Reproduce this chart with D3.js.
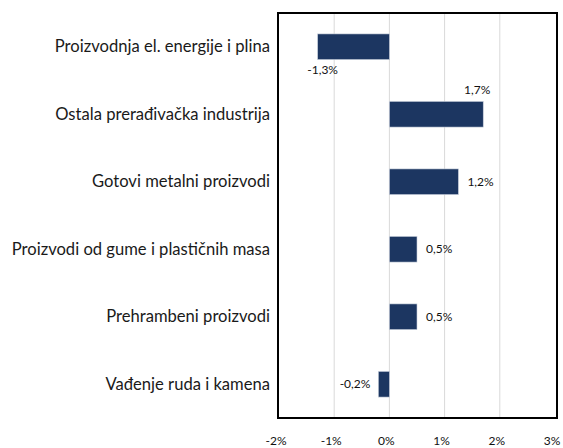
<!DOCTYPE html>
<html>
<head>
<meta charset="utf-8">
<script src="https://cdn.jsdelivr.net/npm/d3@7"></script>
<style>
  body { margin: 0; background: #fff; }
  svg text { font-family: "Lato", "Open Sans", sans-serif; }
</style>
</head>
<body>
<svg id="chart" width="563" height="448"></svg>
<script>
const categories = [
    "Proizvodnja el. energije i plina",
    "Ostala prerađivačka industrija",
    "Gotovi metalni proizvodi",
    "Proizvodi od gume i plastičnih masa",
    "Prehrambeni proizvodi",
    "Vađenje ruda i kamena"
];
const values = [-1.3, 1.7, 1.25, 0.5, 0.5, -0.2];
const value_labels = ["-1,3%", "1,7%", "1,2%", "0,5%", "0,5%", "-0,2%"];
const x_ticks = [-2, -1, 0, 1, 2, 3];

const svg = d3.select('#chart');
const margin = {top: 13, right: 8, bottom: 30, left: 279};
const width = 555 - margin.left;
const height = 418 - margin.top;

const x = d3.scaleLinear().domain([-2, 3]).range([0, width]);
const y = d3.scaleBand().domain(categories).range([0, height]).paddingInner(0.62).paddingOuter(0.31);

const g = svg.append('g').attr('transform', 'translate(' + margin.left + ',' + margin.top + ')');

// gridlines
g.selectAll('.grid')
    .data(x_ticks.filter((t) => t > -2 && t < 3))
    .enter().append('line')
    .attr('x1', (d) => x(d)).attr('x2', (d) => x(d))
    .attr('y1', 0).attr('y2', height)
    .attr('stroke', '#d9d9d9')
    .attr('stroke-width', 1);

// bars
g.selectAll('.bar')
    .data(values)
    .enter().append('rect')
    .attr('x', (d) => x(Math.min(0, d)))
    .attr('y', (d, i) => y(categories[i]))
    .attr('width', (d) => Math.abs(x(d) - x(0)))
    .attr('height', y.bandwidth())
    .attr('fill', '#1c3661')
    .attr('stroke', '#c9d0dc')
    .attr('stroke-width', 0.6);

// value labels
const label_pos = ['below', 'above', 'right', 'right', 'right', 'left'];
g.selectAll('.val')
    .data(values)
    .enter().append('text')
    .attr('x', (d, i) => {
        if (label_pos[i] === 'right') return x(d) + 9;
        if (label_pos[i] === 'left') return x(d) - 8;
        if (label_pos[i] === 'below') return x(d) + 5;
        return x(d) - 6;
    })
    .attr('y', (d, i) => {
        const yc = y(categories[i]) + y.bandwidth() / 2;
        if (label_pos[i] === 'below') return yc + 27;
        if (label_pos[i] === 'above') return yc - 20;
        return yc + 4;
    })
    .attr('text-anchor', (d, i) => label_pos[i] === 'right' ? 'start' : (label_pos[i] === 'left' ? 'end' : 'middle'))
    .style('font-size', '12px')
    .style('fill', '#111')
    .text((d, i) => value_labels[i]);

// category labels
g.selectAll('.cat')
    .data(categories)
    .enter().append('text')
    .attr('x', -9)
    .attr('y', (d) => y(d) + y.bandwidth() / 2 + 5.5)
    .attr('text-anchor', 'end')
    .style('font-size', '16.6px')
    .style('fill', '#1a1a1a')
    .text((d) => d);

// frame
g.append('rect')
    .attr('x', -1).attr('y', 0)
    .attr('width', width + 3).attr('height', height)
    .attr('fill', 'none')
    .attr('stroke', '#000')
    .attr('stroke-width', 2);

// x tick labels
g.selectAll('.tick-label')
    .data(x_ticks)
    .enter().append('text')
    .attr('x', (d) => x(d) - 3)
    .attr('y', height + 27)
    .attr('text-anchor', 'middle')
    .style('font-size', '12px')
    .style('fill', '#111')
    .text((d) => d + '%');
</script>
</body>
</html>
